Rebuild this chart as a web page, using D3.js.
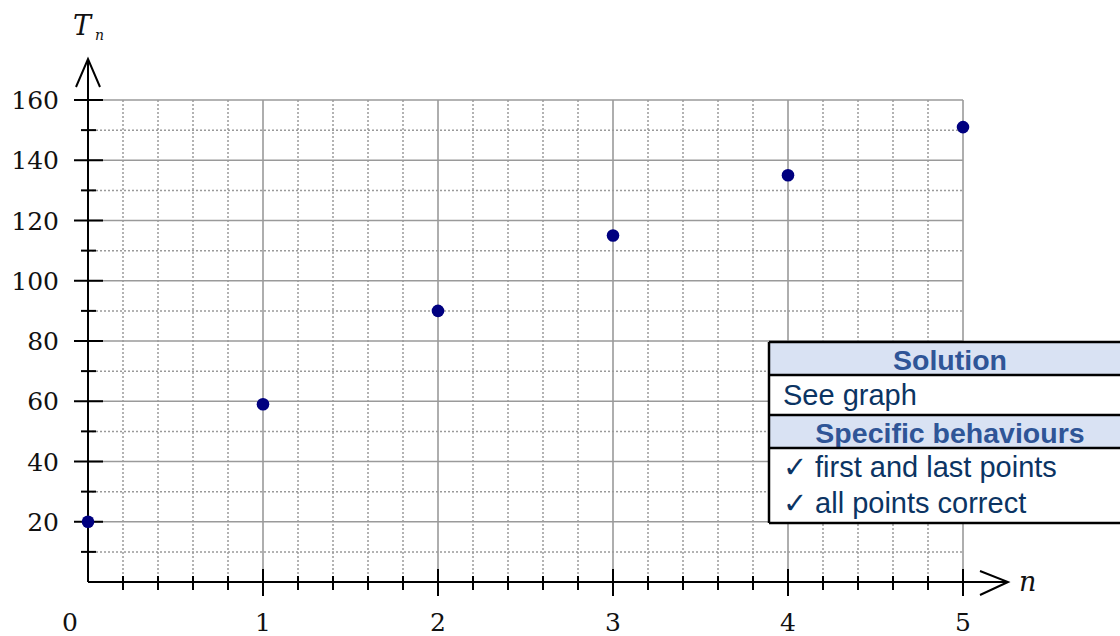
<!DOCTYPE html>
<html><head><meta charset="utf-8">
<script src="https://cdn.jsdelivr.net/npm/d3@7"></script>
<style>html,body{margin:0;padding:0;background:#fff;}svg{display:block;}</style>
</head><body>
<svg id="chart" width="1120" height="636"></svg>
<script>
const nValues = [0, 1, 2, 3, 4, 5];
const tValues = [20, 59, 90, 115, 135, 151];
const xTickLabels = ["0", "1", "2", "3", "4", "5"];
const yTickLabels = [20, 40, 60, 80, 100, 120, 140, 160];
const tableRows = [
  {type: "head", text: "Solution"},
  {type: "body", text: "See graph"},
  {type: "head", text: "Specific behaviours"},
  {type: "body2", lines: ["\u2713 first and last points", "\u2713 all points correct"]}
];

const svg = d3.select("#chart");
const x = d3.scaleLinear().domain([0, 5]).range([88, 963]);
const y = d3.scaleLinear().domain([0, 160]).range([582, 100]);
const gridColor = "#9a9a9a";

// grid
const g = svg.append("g");
const minorX = d3.range(1, 26).map(i => i / 5).filter(v => Math.abs(v - Math.round(v)) > 1e-9);
const majorX = [1, 2, 3, 4, 5];
const minorY = d3.range(10, 160, 20);
const majorY = yTickLabels;
g.selectAll(".vmin").data(minorX).join("line")
  .attr("x1", d => x(d)).attr("x2", d => x(d)).attr("y1", y(160)).attr("y2", y(0))
  .attr("stroke", gridColor).attr("stroke-width", 1.5).attr("stroke-dasharray", "2,2");
g.selectAll(".hmin").data(minorY).join("line")
  .attr("x1", x(0)).attr("x2", x(5)).attr("y1", d => y(d)).attr("y2", d => y(d))
  .attr("stroke", gridColor).attr("stroke-width", 1.5).attr("stroke-dasharray", "2,2");
g.selectAll(".vmaj").data(majorX).join("line")
  .attr("x1", d => x(d)).attr("x2", d => x(d)).attr("y1", y(160)).attr("y2", y(0))
  .attr("stroke", gridColor).attr("stroke-width", 1.6);
g.selectAll(".hmaj").data(majorY).join("line")
  .attr("x1", x(0)).attr("x2", x(5)).attr("y1", d => y(d)).attr("y2", d => y(d))
  .attr("stroke", gridColor).attr("stroke-width", 1.6);

// axes
const ax = svg.append("g").attr("stroke", "#000").attr("fill", "none").attr("stroke-width", 2);
ax.append("line").attr("x1", x(0)).attr("x2", x(0)).attr("y1", y(0)).attr("y2", 59);
ax.append("path").attr("d", `M${x(0)-12},87 L${x(0)},59 L${x(0)+12},87`);
ax.append("line").attr("x1", x(0)).attr("x2", 1008).attr("y1", y(0)).attr("y2", y(0));
ax.append("path").attr("d", `M980,571 L1008,${y(0)} L980,595`);
// y ticks
ax.selectAll(".ytM").data(majorY).join("line")
  .attr("x1", x(0) - 14).attr("x2", x(0) + 15).attr("y1", d => y(d)).attr("y2", d => y(d));
ax.selectAll(".ytm").data(minorY).join("line")
  .attr("x1", x(0) - 7).attr("x2", x(0) + 8).attr("y1", d => y(d)).attr("y2", d => y(d));
// x ticks
ax.selectAll(".xtm").data(minorX).join("line")
  .attr("x1", d => x(d)).attr("x2", d => x(d)).attr("y1", y(0) - 6).attr("y2", y(0) + 8);
ax.selectAll(".xtM").data(majorX).join("line")
  .attr("x1", d => x(d)).attr("x2", d => x(d)).attr("y1", y(0) - 13).attr("y2", y(0) + 14);

// tick labels
const serif = "'DejaVu Serif', 'Liberation Serif', serif";
svg.selectAll(".ylab").data(yTickLabels).join("text")
  .attr("x", 59).attr("y", d => y(d) + 9).attr("text-anchor", "end")
  .attr("font-family", serif).attr("font-size", 25).attr("fill", "#111")
  .text(d => d);
svg.selectAll(".xlab").data(xTickLabels).join("text")
  .attr("x", (d, i) => x(+d) - (i === 0 ? 18 : 0)).attr("y", 631).attr("text-anchor", "middle")
  .attr("font-family", serif).attr("font-size", 25).attr("fill", "#111")
  .text(d => d);

// axis titles
svg.append("text").attr("x", 73).attr("y", 35).attr("font-family", serif)
  .attr("font-style", "italic").attr("font-size", 27).attr("fill", "#111").text("T");
svg.append("text").attr("x", 95).attr("y", 40).attr("font-family", serif)
  .attr("font-style", "italic").attr("font-size", 14).attr("fill", "#111").text("n");
svg.append("text").attr("x", 1019).attr("y", 591).attr("font-family", serif)
  .attr("font-style", "italic").attr("font-size", 27).attr("fill", "#111").text("n");

// points
svg.selectAll(".pt").data(nValues).join("circle")
  .attr("cx", d => x(d)).attr("cy", (d, i) => y(tValues[i])).attr("r", 6.3)
  .attr("fill", "#000080");

// table
const tx = 769, tw = 362, centerX = tx + tw / 2;
const rowH = [33, 40, 33, 75];
let ty = 342;
const tg = svg.append("g");
const sans = "'Liberation Sans', Arial, sans-serif";
tableRows.forEach((r, i) => {
  const h = rowH[i];
  tg.append("rect").attr("x", tx).attr("y", ty).attr("width", tw).attr("height", h)
    .attr("fill", r.type === "head" ? "#d9e2f3" : "#fff");
  if (r.type === "head") {
    tg.append("text").attr("x", centerX).attr("y", ty + 28).attr("text-anchor", "middle")
      .attr("font-family", sans).attr("font-weight", "bold").attr("font-size", 28.5)
      .attr("fill", "#2f5597").text(r.text);
  } else if (r.type === "body") {
    tg.append("text").attr("x", 783).attr("y", ty + 30)
      .attr("font-family", sans).attr("font-size", 29).attr("fill", "#0b3463").text(r.text);
  } else {
    r.lines.forEach((ln, j) => {
      tg.append("text").attr("x", 783).attr("y", ty + 29 + j * 36)
        .attr("font-family", sans).attr("font-size", 29).attr("fill", "#0b3463").text(ln);
    });
  }
  ty += h;
});
// borders
let yy = 342;
const lines = [yy];
rowH.forEach(h => { yy += h; lines.push(yy); });
tg.selectAll(".hb").data(lines).join("line")
  .attr("x1", tx).attr("x2", tx + tw).attr("y1", d => d).attr("y2", d => d)
  .attr("stroke", "#000").attr("stroke-width", 2.5);
tg.append("line").attr("x1", tx).attr("x2", tx).attr("y1", 342).attr("y2", yy)
  .attr("stroke", "#000").attr("stroke-width", 2.5);
</script>
</body></html>
